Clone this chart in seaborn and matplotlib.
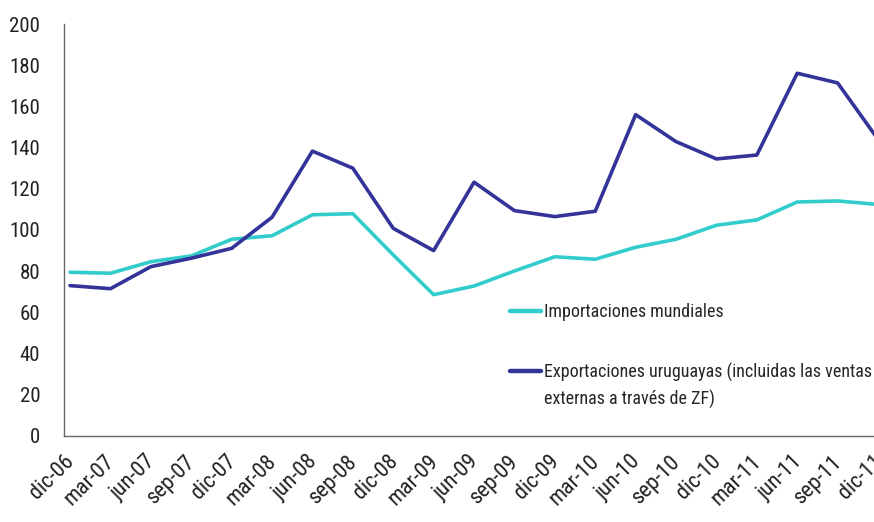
import numpy as np
import pandas as pd
import matplotlib
matplotlib.use('Agg')
import matplotlib.pyplot as plt
from matplotlib import font_manager
from matplotlib.lines import Line2D
import seaborn as sns

# Data (index, base = 100)
periods = ['dic-06', 'mar-07', 'jun-07', 'sep-07', 'dic-07', 'mar-08', 'jun-08',
           'sep-08', 'dic-08', 'mar-09', 'jun-09', 'sep-09', 'dic-09', 'mar-10',
           'jun-10', 'sep-10', 'dic-10', 'mar-11', 'jun-11', 'sep-11', 'dic-11']
importaciones = [79.5, 79, 84.6, 87.4, 95.5, 97.2, 107.4, 107.9, 87.9, 68.6, 72.8,
                 80.1, 87, 85.8, 91.6, 95.5, 102.3, 104.9, 113.6, 114.1, 112.4]
exportaciones = [73, 71.5, 82.2, 86.3, 91.1, 106.2, 138.3, 130, 100.8, 90, 123.2,
                 109.4, 106.5, 109.1, 156, 142.9, 134.5, 136.4, 176.1, 171.4, 144]

lab_imp = 'Importaciones mundiales'
lab_exp = ['Exportaciones uruguayas (incluidas las ventas', 'externas a través de ZF)']
c_imp, c_exp = '#33CCCC', '#333399'

# pick a narrow font if one is around
installed = {f.name for f in font_manager.fontManager.ttflist}
narrow = [f for f in ['Liberation Sans Narrow', 'Roboto Condensed', 'Open Sans Condensed',
                      'Noto Sans Condensed', 'Lato', 'Liberation Sans'] if f in installed]

sns.set_style('white')
plt.rcParams['font.family'] = narrow[:1] + ['DejaVu Sans']

pos = np.arange(len(periods)) + 0.15
df = pd.concat([
    pd.DataFrame({'x': pos, 'valor': importaciones, 'serie': 'imp'}),
    pd.DataFrame({'x': pos, 'valor': exportaciones, 'serie': 'exp'}),
])

fig = plt.figure(figsize=(8.74, 5.22), dpi=100)
ax = fig.add_axes([0.0732, 0.1648, 0.9268, 0.7892])
sns.lineplot(data=df, x='x', y='valor', hue='serie', ax=ax,
             palette={'imp': c_imp, 'exp': c_exp}, linewidth=2.6, legend=False)

ax.set_xlim(0, 20.05)
ax.set_ylim(0, 200)
ax.set_yticks(range(0, 201, 20))
ax.set_xticks(range(len(periods)))
ax.set_xticklabels(periods, rotation=45, ha='right', rotation_mode='anchor')
ax.set_xlabel('')
ax.set_ylabel('')
ax.tick_params(axis='both', labelcolor='#222222', length=5,
               width=1, direction='out', color='#666666')
ax.tick_params(axis='y', labelsize=15, pad=12)
ax.tick_params(axis='x', labelsize=16, pad=6)
for s in ['top', 'right']:
    ax.spines[s].set_visible(False)
for s in ['left', 'bottom']:
    ax.spines[s].set_color('#666666')
    ax.spines[s].set_linewidth(1)

# legend: two blocks, the second label wraps onto a line without handle
kw = dict(frameon=False, fontsize=13, handlelength=1.75, handletextpad=0.15,
          borderpad=0, borderaxespad=0, loc='center left')
leg1 = ax.legend([Line2D([], [], color=c_imp, lw=3.2)], [lab_imp],
                 bbox_to_anchor=(0.5505, 0.301), **kw)
ax.add_artist(leg1)
ax.legend([Line2D([], [], color=c_exp, lw=3.2), Line2D([], [], color='none')],
          lab_exp, bbox_to_anchor=(0.5505, 0.122), labelspacing=0.45, **kw)

fig.savefig('out.png', dpi=100)
